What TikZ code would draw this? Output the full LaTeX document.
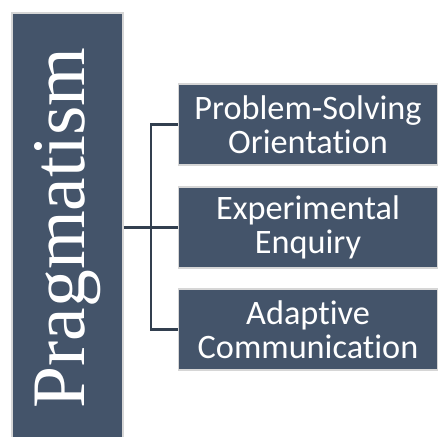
\documentclass[tikz,border=0pt]{standalone}
\usepackage{fontspec}
\setmainfont{Liberation Serif}
\newfontfamily\boxfont[RawFeature={-liga;-clig;-calt;-dlig}]{Carlito}
\usepackage{graphicx}
\usepackage{tikz}
\usetikzlibrary{calc}

\definecolor{slate}{HTML}{44546A}
\definecolor{slateline}{HTML}{323F4F}
\definecolor{rimgray}{HTML}{D6D6D6}

\tikzset{
  mainbox/.style={draw=rimgray, line width=0.7pt, fill=slate, text=white,
    inner sep=0pt, minimum width=2.22cm, minimum height=8.6cm},
  itembox/.style={draw=rimgray, line width=0.7pt, fill=slate, text=white,
    inner sep=0pt, minimum width=5.18cm, minimum height=1.62cm, align=center,
    font=\boxfont\fontsize{19.5}{19.3}\selectfont},
  link/.style={draw=slateline, line width=1.4pt}
}

\begin{document}
\begin{tikzpicture}[x=0.02cm, y=-0.02cm]
        % Fix the page to the size of the picture
        \useasboundingbox (0,0) rectangle (438,436);
        
        % The tall box on the left
        \node[mainbox] (prag) at (67.5,228) {\rotatebox{90}{\fontsize{43}{43}\selectfont Pragmatism}};
        
        % The three boxes on the right
        \node[itembox] (solve) at (308,124.5) {Problem-Solving\\Orientation};
        \node[itembox] (enquiry) at (308,227.5) {Experimental\\Enquiry};
        \node[itembox] (adapt) at (308,329.5) {Adaptive\\Communication};
        
        % Join them up
        \coordinate (spine) at (151,0);
        \draw[link] (prag.east |- enquiry.west) -- (enquiry.west);
        \draw[link] (solve.west) -| (spine |- adapt.west) -- (adapt.west);
    \end{tikzpicture}
\end{document}
